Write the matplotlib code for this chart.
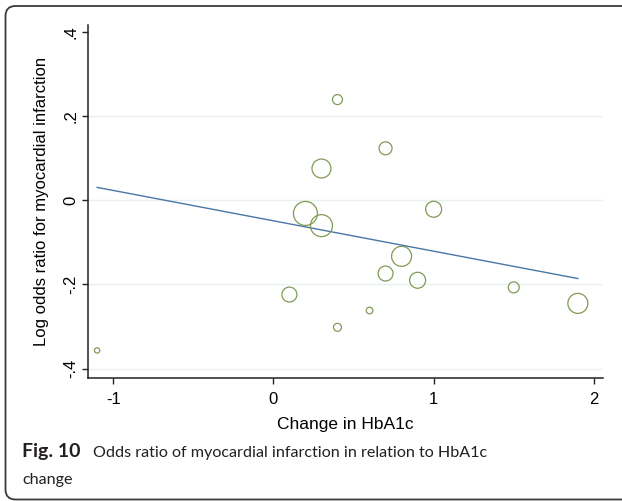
import numpy as np
import matplotlib.pyplot as plt
from matplotlib.patches import FancyBboxPatch
from matplotlib.transforms import IdentityTransform

# data (meta-regression bubble plot)
hba1c_change = [-1.10, 0.10, 0.20, 0.30, 0.30, 0.40, 0.70, 1.00, 0.80, 0.70, 0.90, 0.60, 0.40, 1.50, 1.90]
log_or = [-0.357, -0.224, -0.031, -0.060, 0.076, 0.240, 0.124, -0.021, -0.133, -0.174, -0.190, -0.262, -0.302, -0.207, -0.245]
weight = [7, 56, 144, 121, 90, 25, 42, 64, 100, 56, 64, 11, 16, 30, 100]

fit_intercept = -0.0485
fit_slope = -0.0723

xticks = [-1, 0, 1, 2]
xtick_labels = ["-1", "0", "1", "2"]
yticks = [-0.4, -0.2, 0, 0.2, 0.4]
ytick_labels = ["-.4", "-.2", "0", ".2", ".4"]
grid_y = [-0.4, -0.2, 0, 0.2]

W, H = 622, 501
fig = plt.figure(figsize=(W / 100, H / 100), dpi=100)

# rounded frame (pixel coords), right side runs off the image
frame = FancyBboxPatch((5.5, 1.5), 2000, 493.5,
                       boxstyle="round,pad=0,rounding_size=10",
                       transform=IdentityTransform(), facecolor="none",
                       edgecolor="#3a3a3a", linewidth=1.3, clip_on=False)
fig.patches.append(frame)

ax = fig.add_axes([88 / W, (H - 378) / H, (603 - 88) / W, (378 - 25) / H])

for gy in grid_y:
    ax.axhline(gy, color="#e8f0f1", linewidth=1.0, zorder=0)

x = np.array(hba1c_change)
y = np.array(log_or)
ax.scatter(x, y, s=np.array(weight) * 2.07, facecolors="none",
           edgecolors="#7f9b55", linewidths=0.9, zorder=3)

xl = np.array([x.min(), x.max()])
ax.plot(xl, fit_intercept + fit_slope * xl, color="#4a76a8", linewidth=1.0, zorder=2)

ax.set_xlim(-1.157, 2.057)
ax.set_ylim(-0.4226, 0.4175)
ax.set_xticks(xticks)
ax.set_xticklabels(xtick_labels)
ax.set_yticks(yticks)
ax.set_yticklabels(ytick_labels, rotation=90, va="center")

for s in ["top", "right"]:
    ax.spines[s].set_visible(False)
for s in ["left", "bottom"]:
    ax.spines[s].set_color("#222222")
    ax.spines[s].set_linewidth(1.1)
ax.tick_params(direction="out", length=4, width=1, color="#222222", labelsize=12)
ax.tick_params(axis="x", pad=6)
ax.tick_params(axis="y", pad=3)
for lab in ax.get_xticklabels() + ax.get_yticklabels():
    lab.set_family("Liberation Sans")

ax.set_xlabel("Change in HbA1c", fontsize=12.5, family="Liberation Sans", labelpad=7)
ax.set_ylabel("Log odds ratio for myocardial infarction", fontsize=12,
              family="Liberation Sans", labelpad=10)

# caption
fig.text(22 / W, 1 - 457 / H, "Fig. 10", fontsize=14, fontweight="bold",
         family="Lato", color="#231f20", va="baseline")
cap = fig.text(93 / W, 1 - 457 / H, "Odds ratio of myocardial infarction in relation to HbA1c",
               fontsize=13, family="Lato", color="#231f20", va="baseline")
cap2 = fig.text(22 / W, 1 - 484 / H, "change", fontsize=13, family="Lato",
                color="#231f20", va="baseline")

# scale caption font so its line width is close to the reference
r = fig.canvas.get_renderer()
wpx = cap.get_window_extent(r).width
fs = 13 * 395 / wpx
cap.set_fontsize(fs)
cap2.set_fontsize(fs)

fig.savefig("out.png", dpi=100)
